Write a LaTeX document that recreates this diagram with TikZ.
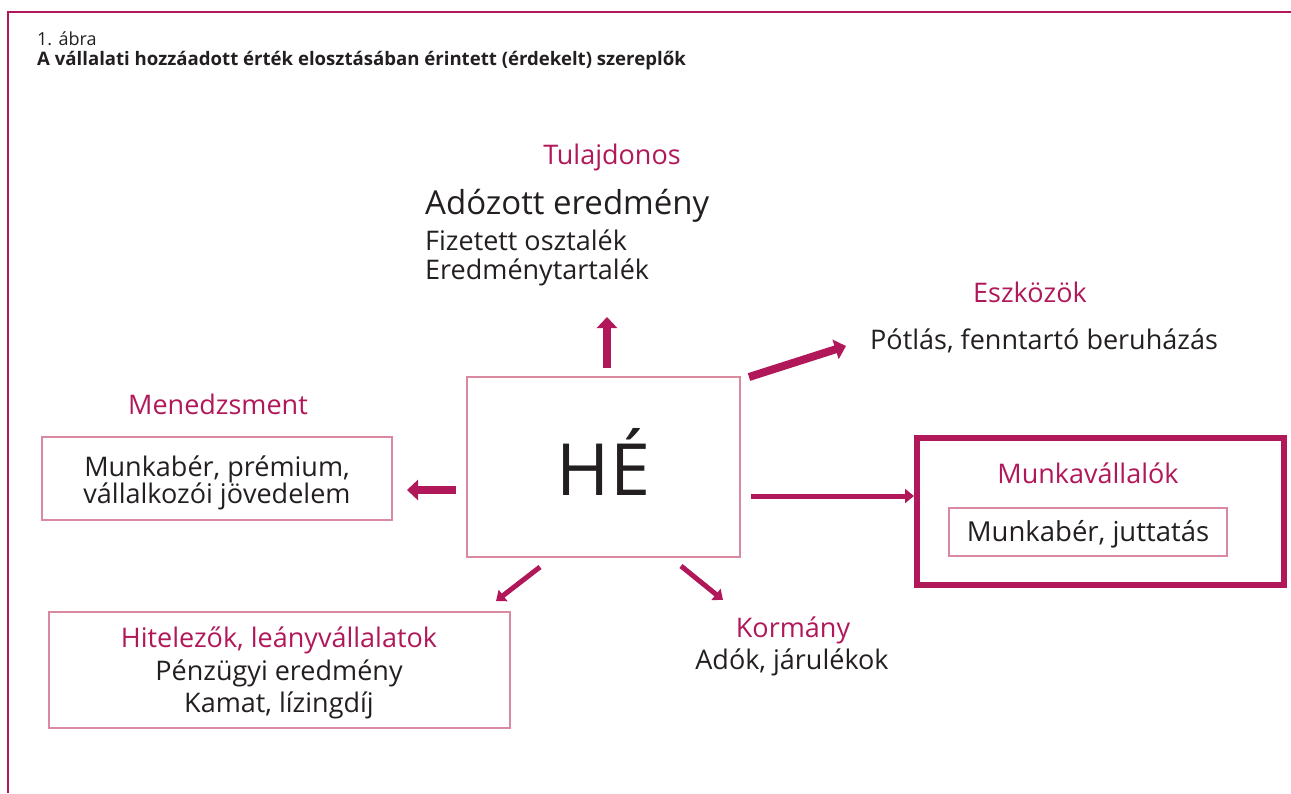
\documentclass[tikz,border=0pt]{standalone}
\usepackage{fontspec}
\setmainfont{Open Sans}
\usetikzlibrary{arrows.meta}
\definecolor{mag}{HTML}{B0185A}
\definecolor{lpink}{HTML}{D98AA0}
\definecolor{txt}{HTML}{231F20}
\tikzset{
  lbl/.style={text=mag, anchor=base, inner sep=0pt, font=\fontsize{27}{31}\selectfont},
  body/.style={text=txt, anchor=base, inner sep=0pt, font=\fontsize{27}{31}\selectfont},
  pbox/.style={draw=lpink, line width=1.2pt},
  fatarrow/.style={draw=mag, line width=8pt, -{Triangle[width=20pt,length=11pt]}},
  thinarrow/.style={draw=mag, line width=5pt, -{Triangle[width=14pt,length=9pt]}},
}
\begin{document}
\begin{tikzpicture}[x=1pt,y=-1pt]
\useasboundingbox (0,0) rectangle (1291,793);
% frame
\draw[mag, line width=2pt] (8,793) -- (8,12) -- (1291,12);
\node[anchor=base west, inner sep=0pt, text=txt, font=\fontsize{18}{21}\selectfont] (fig) at (37,45) {1. ábra};
\node[anchor=base west, inner sep=0pt, text=txt, font=\fontsize{18.6}{21}\selectfont\bfseries] (title) at (37,65) {A vállalati hozzáadott érték elosztásában érintett (érdekelt) szereplők};
% centre
\node[pbox, minimum width=273pt, minimum height=180pt, inner sep=0pt] (he) at (603.5,467) {};
\node[anchor=base, inner sep=0pt, text=txt, font=\fontsize{72}{80}\selectfont] (hetext) at (603.5,495) {HÉ};
% Tulajdonos
\node[lbl] (tul) at (612,164) {Tulajdonos};
\node[anchor=base west, inner sep=0pt, text=txt, font=\fontsize{33}{38}\selectfont] (ado) at (425,214) {Adózott eredmény};
\node[anchor=base west, inner sep=0pt, text=txt, font=\fontsize{27}{31}\selectfont] (fiz) at (425,250) {Fizetett osztalék};
\node[anchor=base west, inner sep=0pt, text=txt, font=\fontsize{27}{31}\selectfont] (ert) at (425,279) {Eredménytartalék};
\coordinate (upS) at (607,368);
\coordinate (upE) at (607,317);
\draw[fatarrow] (upS) -- (upE);
% Eszkozok
\node[lbl] (esz) at (1030,302) {Eszközök};
\node[anchor=base west, inner sep=0pt, text=txt, font=\fontsize{27}{31}\selectfont] (pot) at (870,349) {Pótlás, fenntartó beruházás};
\coordinate (eszS) at (749,377);
\coordinate (eszE) at (846,346);
\draw[fatarrow] (eszS) -- (eszE);
% Menedzsment
\node[lbl] (men) at (218,414) {Menedzsment};
\node[pbox, minimum width=350pt, minimum height=83pt, inner sep=0pt] (menbox) at (217,478.5) {};
\node[body] (men1) at (217,476) {Munkabér, prémium,};
\node[body] (men2) at (217,503) {vállalkozói jövedelem};
\coordinate (menS) at (456,490);
\coordinate (menE) at (407,490);
\draw[fatarrow] (menS) -- (menE);
% Munkavallalok
\node[draw=mag, line width=6pt, minimum width=367pt, minimum height=147pt, inner sep=0pt] (mvbox) at (1100.5,511.5) {};
\node[lbl] (mv) at (1088,483) {Munkavállalók};
\node[pbox, minimum width=278pt, minimum height=48pt, inner sep=0pt] (mvin) at (1088,532) {};
\node[body, font=\fontsize{27.5}{31}\selectfont] (mvt) at (1088,541) {Munkabér, juttatás};
\coordinate (mvS) at (751,496);
\draw[thinarrow] (mvS) -- (mvbox.west |- mvS);
% Hitelezok
\node[pbox, minimum width=461pt, minimum height=116pt, inner sep=0pt] (hitbox) at (279.5,670) {};
\node[lbl] (hit) at (279,647) {Hitelezők, leányvállalatok};
\node[body] (hit1) at (279,680) {Pénzügyi eredmény};
\node[body] (hit2) at (279,712) {Kamat, lízingdíj};
\coordinate (hitS) at (540,567);
\coordinate (hitE) at (496,601);
\draw[thinarrow] (hitS) -- (hitE);
% Kormany
\node[lbl] (kor) at (793,637) {Kormány};
\node[body] (ado2) at (792,669) {Adók, járulékok};
\coordinate (korS) at (681,566);
\coordinate (korE) at (723,600);
\draw[thinarrow] (korS) -- (korE);
\end{tikzpicture}
\end{document}
